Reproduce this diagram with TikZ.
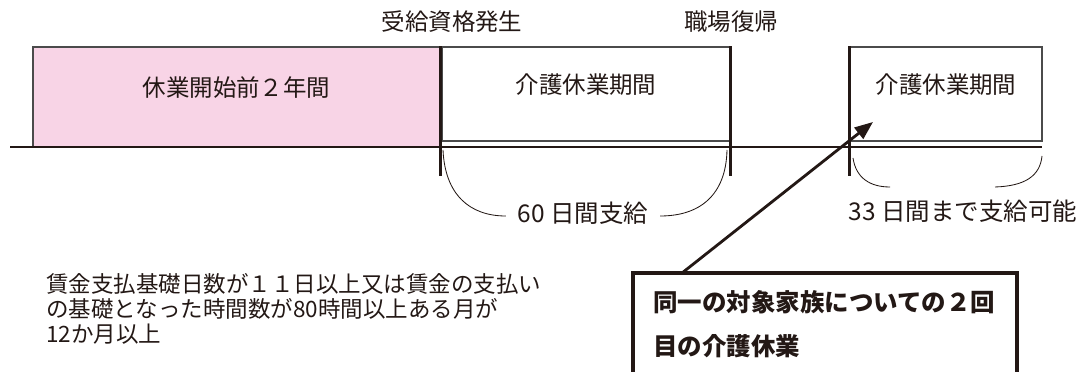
\documentclass[tikz,border=0pt]{standalone}
\usepackage{fontspec}
\setmainfont{Noto Sans CJK JP}
\usetikzlibrary{
    positioning,
    arrows.meta,
    calc,
    fit
}
\definecolor{PinkFill}{RGB}{248,212,230}
\definecolor{InkDark}{RGB}{35,24,21}
\definecolor{EdgeGray}{RGB}{75,75,75}

\begin{document}
\begin{tikzpicture}[
    x=0.025cm, y=-0.025cm,
    every node/.style={text=InkDark},
    mainfont/.style={font=\fontsize{16.7}{20}\selectfont},
    payfont/.style={font=\fontsize{17.4}{20}\selectfont},
    notefont/.style={font=\fontsize{16}{20}\selectfont, anchor=base west, inner sep=0pt},
    callfont/.style={font=\bfseries\fontsize{17.4}{20}\selectfont, anchor=base west, inner sep=0pt},
    period/.style={draw=EdgeGray, line width=1pt, inner sep=0pt, mainfont},
    marker/.style={draw=InkDark, line width=2.1pt},
    brace/.style={draw=InkDark, line width=0.6pt},
    calloutbox/.style={draw=InkDark, line width=2.8pt, inner sep=0pt},
    pointer/.style={draw=InkDark, line width=2pt, -{Triangle[length=13pt,width=10pt]}},
]
    \useasboundingbox (0,0) rectangle (1084,372);
    \clip (0,0) rectangle (1084,372);

    % Periods
    \node[period, fill=PinkFill, fit={(33,47) (440,147)}] (before) {休業開始前２年間};
    \node[period, fit={(442,47) (730,141)}] (leave1) {介護休業期間};
    \node[period, fit={(850,47) (1042,141)}] (leave2) {介護休業期間};

    % Time line and markers
    \draw[marker] (10,147) -- (1042,147);
    \draw[marker] (before.north east) -- ++(0,130);
    \draw[marker] (leave1.north east) -- ++(0,130);
    \draw[marker] (leave2.north west) -- ++(0,130);

    % Top labels
    \node[mainfont] (start) at (452,22) {受給資格発生};
    \node[mainfont] (back) at (731,22) {職場復帰};

    % Payment braces
    \node[payfont] (pay1) at (583,213) {60 日間支給};
    \draw[brace] (443,150) .. controls (445,195) and (470,216) .. ($(pay1.west)+(-7,3)$);
    \draw[brace] ($(pay1.east)+(7,3)$) .. controls (700,216) and (726,195) .. (727,150);

    \node[payfont] (pay2) at (963,211) {33 日間まで支給可能};
    \draw[brace] (853,158) .. controls (856,178) and (870,187) .. (890,187);
    \draw[brace] (995,187) .. controls (1025,186) and (1040,176) .. (1042,156);

    % Condition note
    \foreach \txt [count=\i] in {賃金支払基礎日数が１１日以上又は賃金の支払い,
                                 の基礎となった時間数が80時間以上ある月が,
                                 12か月以上}
        \node[notefont] (note\i) at (46,268+25*\i) {\txt};

    % Callout
    \node[calloutbox, fit={(633,273) (1017,400)}] (callout) {};
    \node[callfont] (call1) at (653,312) {同一の対象家族についての２回};
    \node[callfont] (call2) at (653,356) {目の介護休業};
    \coordinate (src) at (682,273);
    \coordinate (tip) at (873,122);
    \draw[pointer] (src) -- (tip);

\end{tikzpicture}
\end{document}
